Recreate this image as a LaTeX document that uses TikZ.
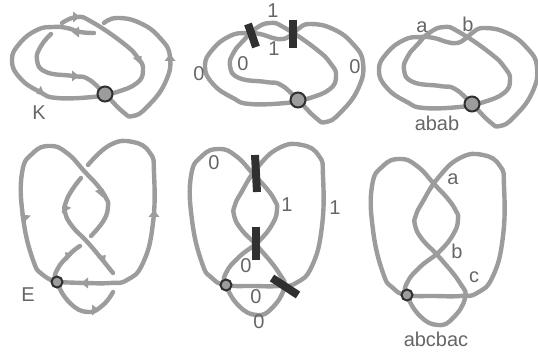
\documentclass[tikz,border=0pt]{standalone}
\usepackage{fontspec}
\setmainfont{Liberation Sans}
\definecolor{strand}{HTML}{9C9C9C}
\definecolor{ink}{HTML}{666666}
\definecolor{barcol}{HTML}{303030}
\newcommand{\topfull}{(12,60)(20,43)(37,30)(53,27)(67,28)(80,32)(90,33)(98,29)(105,23)(117,18)(140,23)(160,38)(170,57)(165,83)(147,107)(133,116)(123,112)(105,94)(88,79)(73,76)(46,72)(37,60)(41,46)(51,34)(62,23)(77,17)(92,22)(123,43)(138,58)(143,70)(137,83)(117,92)(105,94)(93,97)(57,98)(40,92)(20,78)}
\newcommand{\lowfull}{(22,173)(33,153)(50,146)(67,153)(85,172)(98,186)(106,198)(108,206)(104,220)(90,238)(70,254)(57,270)(57,282)(70,303)(88,312)(103,305)(115,285)(110,270)(90,245)(72,226)(65,212)(66,202)(72,190)(88,165)(110,145)(133,142)(150,153)(154,173)(153,223)(143,263)(127,280)(110,283)(85,283)(57,282)(43,275)(33,260)(23,217)}
\tikzset{
  strandline/.style={draw=strand,line width=4.4pt,line cap=round,line join=round},
  barmark/.style={draw=barcol,line width=8pt},
  basepoint/.style={circle,draw=barcol,fill=strand,line width=2pt,minimum size=15pt,inner sep=0pt},
  basesmall/.style={basepoint,minimum size=11pt},
  lab/.style={text=ink,font=\fontsize{20}{20}\selectfont,inner sep=0pt},
  tipmark/.style={fill=strand,draw=none}
}
\begin{document}
\begin{tikzpicture}[x=1pt,y=-1pt]
\useasboundingbox (0,0) rectangle (538,358);
% panel K
\draw[strandline] plot[smooth,tension=.8] coordinates{(105,94)(93,97)(57,98)(40,92)(20,78)(12,60)(20,43)(37,30)(53,27)(67,28)(80,32)(94,33)};
\draw[strandline] plot[smooth,tension=.8] coordinates{(104,23)(117,18)(140,23)(160,38)(170,57)(165,83)(147,107)(133,116)(123,112)(105,94)(88,79)(73,76)(46,72)(37,60)(41,46)(51,34)};
\draw[strandline] plot[smooth,tension=.8] coordinates{(62,23)(77,17)(92,22)(123,43)(138,58)(143,70)(137,83)(117,92)(105,94)};
\foreach \x/\y/\a in {76/17/0,76/32/180,40/92/200,75/76/0,139/59/50,170/58/90}
  \fill[tipmark,shift={(\x,\y)},rotate=\a] (4,0) -- (-3,-5.5) -- (-3,5.5) -- cycle;
\node[basepoint] (k0) at (105,94) {};
\node[lab] (kl) at (39,113) {K};
% panel 2
\begin{scope}[shift={(193,6)}]
\draw[strandline] plot[smooth cycle,tension=.8] coordinates{\topfull};
\node[basepoint] (m0) at (105,94) {};
\end{scope}
\draw[barmark] (248,24) -- (256,47);
\draw[barmark] (293,20) -- (293,48);
\node[lab] (m1) at (273,11) {1};
\node[lab] (m2) at (274,49) {1};
\node[lab] (m3) at (243,64) {0};
\node[lab] (m4) at (199,74) {0};
\node[lab] (m5) at (355,67) {0};
% panel 3
\begin{scope}[shift={(367,10)}]
\draw[strandline] plot[smooth cycle,tension=.8] coordinates{\topfull};
\node[basepoint] (r0) at (105,94) {};
\end{scope}
\node[lab] (r1) at (422,27) {a};
\node[lab] (r2) at (468,24) {b};
\node[lab] (r3) at (437,123) {abab};
% panel E
\draw[strandline] plot[smooth,tension=.8] coordinates{(57,282)(43,275)(33,260)(23,217)(22,173)(33,153)(50,146)(67,153)(85,172)(98,186)(106,198)(108,206)(104,220)(91,236)};
\draw[strandline] plot[smooth,tension=.8] coordinates{(80,246)(70,254)(57,270)(57,282)(70,303)(88,312)(103,305)(113,292)};
\draw[strandline] plot[smooth,tension=.8] coordinates{(113,273)(90,245)(72,226)(65,212)(66,202)(72,190)(81,178)};
\draw[strandline] plot[smooth,tension=.8] coordinates{(88,165)(110,145)(133,142)(150,153)(154,173)(153,223)(143,263)(127,280)(110,283)(85,283)(57,282)};
\foreach \x/\y/\a in {25/218/-95,101/192/50,65/208/120,154/214/90,68/255/140,103/258/50,85/283/180,95/310/0}
  \fill[tipmark,shift={(\x,\y)},rotate=\a] (4,0) -- (-3,-5.5) -- (-3,5.5) -- cycle;
\node[basesmall] (e0) at (57,282) {};
\node[lab] (el) at (28,295) {E};
% panel 5
\begin{scope}[shift={(169,3)}]
\draw[strandline] plot[smooth cycle,tension=.8] coordinates{\lowfull};
\node[basesmall] (n0) at (57,282) {};
\end{scope}
\draw[barmark] (255,155) -- (257,192);
\draw[barmark] (256,227) -- (256,260);
\draw[barmark] (272,278) -- (298,295);
\node[lab] (n1) at (214,163) {0};
\node[lab] (n2) at (287,205) {1};
\node[lab] (n3) at (335,208) {1};
\node[lab] (n4) at (246,266) {0};
\node[lab] (n5) at (256,297) {0};
\node[lab] (n6) at (259,322) {0};
% panel 6
\begin{scope}[shift={(350,13)}]
\draw[strandline] plot[smooth cycle,tension=.8] coordinates{\lowfull};
\node[basesmall] (s0) at (57,282) {};
\end{scope}
\node[lab] (s1) at (453,179) {a};
\node[lab] (s2) at (457,251) {b};
\node[lab] (s3) at (474,277) {c};
\node[lab] (s4) at (436,339) {abcbac};
\end{tikzpicture}
\end{document}
